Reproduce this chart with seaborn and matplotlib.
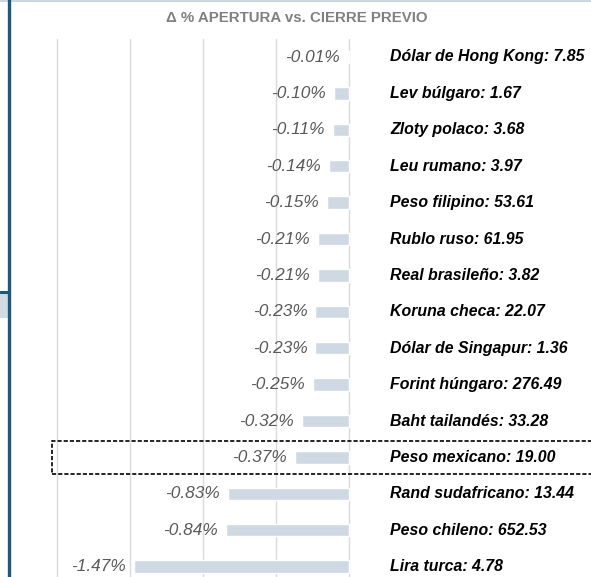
import matplotlib
matplotlib.use("Agg")
import matplotlib.pyplot as plt
import seaborn as sns
import pandas as pd
from matplotlib.patches import Rectangle
from matplotlib.lines import Line2D

currencies = ["Dólar de Hong Kong", "Lev búlgaro", "Zloty polaco", "Leu rumano",
              "Peso filipino", "Rublo ruso", "Real brasileño", "Koruna checa",
              "Dólar de Singapur", "Forint húngaro", "Baht tailandés", "Peso mexicano",
              "Rand sudafricano", "Peso chileno", "Lira turca"]
rates = ["7.85", "1.67", "3.68", "3.97", "53.61", "61.95", "3.82", "22.07",
         "1.36", "276.49", "33.28", "19.00", "13.44", "652.53", "4.78"]
changes = [-0.01, -0.10, -0.11, -0.14, -0.15, -0.21, -0.21, -0.23,
           -0.23, -0.25, -0.32, -0.37, -0.83, -0.84, -1.47]
x_ticks = [-2.0, -1.5, -1.0, -0.5, 0.0]
title = "Δ % APERTURA vs. CIERRE PREVIO"
highlight = "Peso mexicano"

sns.set_theme(style="white")
plt.rcParams['font.family'] = ['Liberation Sans', 'DejaVu Sans']

W, H = 591, 577
fig = plt.figure(figsize=(W / 100, H / 100), dpi=100)

# axes geometry in pixels
px_per_unit = 146.0
ax_left_px, ax_right_px = 50, 356
top_px, row_h = 38.8, 36.4
n = len(currencies)
bottom_px = top_px + n * row_h
ax = fig.add_axes([ax_left_px / W, (H - bottom_px) / H,
                   (ax_right_px - ax_left_px) / W, (bottom_px - top_px) / H])

df = pd.DataFrame({"moneda": currencies, "cambio": changes})
sns.barplot(data=df, x="cambio", y="moneda", orient="h", color="#cfd9e4",
            saturation=1, width=0.34, ax=ax)

x0 = -2.0 - (57 - ax_left_px) / px_per_unit
x1 = 0.0 + (ax_right_px - 349) / px_per_unit
ax.set_xlim(x0, x1)
ax.set_ylim(n - 0.5, -0.5)
ax.set_xticks(x_ticks)
ax.set_yticks([])
ax.tick_params(axis="x", which="both", length=0, labelbottom=False)
ax.set_xlabel("")
ax.set_ylabel("")
for s in ax.spines.values():
    s.set_visible(False)
ax.grid(axis="x", color="#dadada", linewidth=1.0)
ax.set_axisbelow(True)

for i, (c, r, v) in enumerate(zip(currencies, rates, changes)):
    ax.annotate(f"{v:.2f}%", xy=(v, i), xytext=(-5.8, 0), textcoords="offset points",
                ha="right", va="center", fontsize=12.4, style="italic",
                color="#595959", annotation_clip=False)
    ax.annotate(f"{c}: {r}", xy=(0, i), xytext=(29.5, 0), textcoords="offset points",
                ha="left", va="center", fontsize=11.4, style="italic",
                fontweight="bold", color="black", annotation_clip=False)

# title
fig.text(297 / W, 1 - 18 / H, title, ha="center", va="center",
         fontsize=10.8, fontweight="bold", color="#808080")

# highlight box around the selected row
hi = currencies.index(highlight)
yc = top_px + (hi + 0.5) * row_h
fig.patches.append(Rectangle((52 / W, 1 - (yc + 16.5) / H), (W + 20 - 52) / W, 33 / H,
                             transform=fig.transFigure, fill=False,
                             edgecolor="black", linewidth=1.2,
                             linestyle=(0, (2.5, 1.2))))

# frame decorations from the original screenshot
fig.lines.append(Line2D([0, 1], [1 - 0.8 / H, 1 - 0.8 / H], transform=fig.transFigure,
                        color="#c9d7e4", linewidth=1.4))
fig.patches.append(Rectangle((0, 1 - 318 / H), 7.5 / W, 26 / H, transform=fig.transFigure,
                             facecolor="#d0dbe6", edgecolor="none"))
fig.lines.append(Line2D([0, 8 / W], [1 - 292 / H, 1 - 292 / H], transform=fig.transFigure,
                        color="#1b5a7a", linewidth=2.2))
fig.lines.append(Line2D([8.5 / W, 8.5 / W], [0, 1], transform=fig.transFigure,
                        color="#1b5a7a", linewidth=2.4))

fig.savefig("out.png", dpi=100)
